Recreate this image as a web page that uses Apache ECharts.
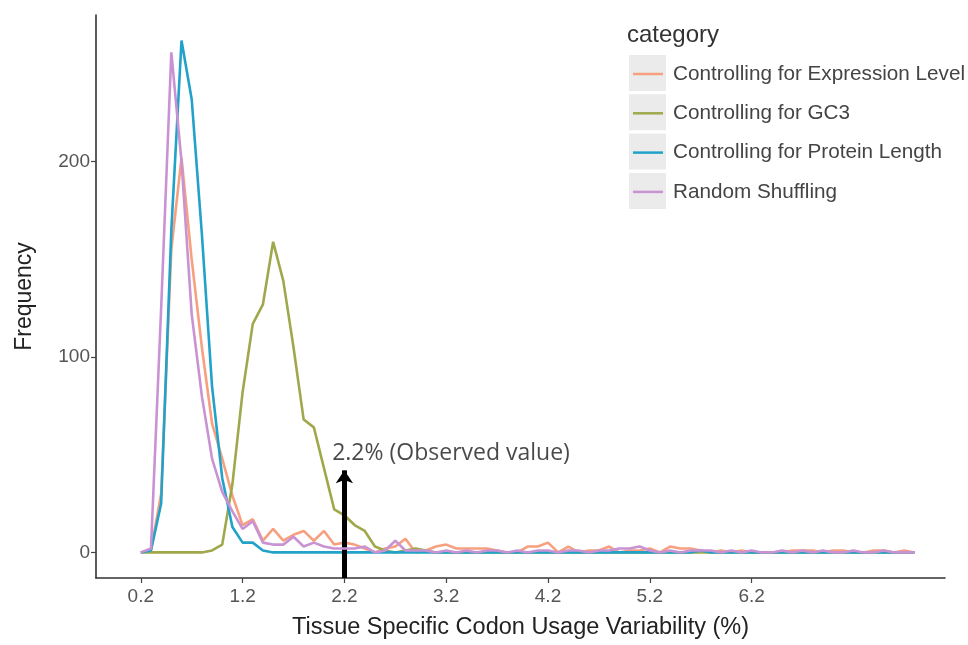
<!DOCTYPE html>
<html>
<head>
<meta charset="utf-8">
<script src="https://cdn.jsdelivr.net/npm/echarts@6/dist/echarts.min.js"></script>
<style>
  html, body { margin: 0; padding: 0; background: #fff; }
  #chart { width: 968px; height: 645px; }
</style>
</head>
<body>
<div id="chart"></div>
<script>
// bin positions (%)
const bins = [
  0.2, 0.3, 0.4, 0.5, 0.6, 0.7, 0.8, 0.9, 1.0, 1.1,
  1.2, 1.3, 1.4, 1.5, 1.6, 1.7, 1.8, 1.9, 2.0, 2.1,
  2.2, 2.3, 2.4, 2.5, 2.6, 2.7, 2.8, 2.9, 3.0, 3.1,
  3.2, 3.3, 3.4, 3.5, 3.6, 3.7, 3.8, 3.9, 4.0, 4.1,
  4.2, 4.3, 4.4, 4.5, 4.6, 4.7, 4.8, 4.9, 5.0, 5.1,
  5.2, 5.3, 5.4, 5.5, 5.6, 5.7, 5.8, 5.9, 6.0, 6.1,
  6.2, 6.3, 6.4, 6.5, 6.6, 6.7, 6.8, 6.9, 7.0, 7.1,
  7.2, 7.3, 7.4, 7.5, 7.6, 7.7, 7.8
];

const expressionLevel = [
  0, 1, 30, 155, 202, 150, 105, 66, 48, 29,
  14, 17, 6, 12, 6, 9, 11, 6, 11, 4,
  5, 4, 2, 0, 2, 3, 7, 0, 1, 3,
  4, 2, 2, 2, 2, 1, 0, 0, 3, 3,
  5, 0, 3, 0, 1, 1, 3, 0, 1, 1,
  2, 0, 3, 2, 2, 1, 0, 1, 0, 1,
  0, 0, 0, 0, 1, 1, 1, 0, 1, 1,
  0, 0, 1, 1, 0, 1, 0
];

const gc3 = [
  0, 0, 0, 0, 0, 0, 0, 1, 4, 35,
  82, 117, 127, 159, 139, 105, 68, 64, 43, 22,
  19, 14, 11, 3, 1, 0, 1, 2, 1, 0,
  0, 0, 0, 0, 0, 0, 0, 0, 0, 0,
  0, 0, 0, 0, 0, 0, 0, 0, 0, 0,
  0, 0, 0, 0, 0, 0, 0, 0, 0, 0,
  0, 0, 0, 0, 0, 0, 0, 0, 0, 0,
  0, 0, 0, 0, 0, 0, 0
];

const proteinLength = [
  0, 1, 25, 165, 262, 232, 163, 85, 38, 13,
  5, 5, 1, 0, 0, 0, 0, 0, 0, 0,
  0, 0, 0, 0, 0, 0, 0, 0, 0, 0,
  0, 0, 0, 0, 0, 0, 0, 0, 0, 0,
  0, 0, 0, 0, 0, 0, 0, 0, 0, 0,
  0, 0, 0, 0, 0, 1, 0, 0, 0, 0,
  0, 0, 0, 0, 0, 0, 0, 0, 0, 0,
  0, 0, 0, 0, 0, 0, 0
];

const randomShuffling = [
  0, 2, 125, 256, 200, 122, 80, 48, 31, 21,
  12, 16, 5, 4, 4, 8, 3, 5, 3, 2,
  2, 2, 3, 0, 1, 6, 1, 1, 1, 0,
  1, 0, 1, 0, 1, 1, 0, 1, 0, 1,
  1, 0, 1, 1, 0, 1, 1, 2, 2, 3,
  1, 0, 1, 0, 1, 1, 1, 0, 1, 0,
  1, 0, 0, 1, 0, 1, 0, 1, 0, 0,
  1, 0, 0, 1, 0, 0, 0
];

const xTicks = [0.2, 1.2, 2.2, 3.2, 4.2, 5.2, 6.2];
const yTicks = [0, 100, 200];

const observedValue = 2.2;
const observedLabel = '2.2% (Observed value)';

const seriesNames = [
  'Controlling for Expression Level',
  'Controlling for GC3',
  'Controlling for Protein Length',
  'Random Shuffling'
];
const seriesValues = [expressionLevel, gc3, proteinLength, randomShuffling];
const colors = ['#f6a07f', '#a0a84c', '#22a2c9', '#c993d3'];

const font = 'Liberation Sans, Arial, sans-serif';
const yMin = -13.1, yMax = 275.1;

const chart = echarts.init(document.getElementById('chart'));

const lineSeries = seriesNames.map((name, i) => ({
  name: name,
  type: 'line',
  data: bins.map((x, j) => [x, seriesValues[i][j]]),
  showSymbol: false,
  symbol: 'none',
  lineStyle: { color: colors[i], width: 2.6 },
  itemStyle: { color: colors[i] },
  z: 2 + i,
  animation: false
}));

// arrow + text for the observed value
lineSeries.push({
  name: 'observed',
  type: 'scatter',
  data: [[observedValue - 0.12, 50.5]],
  symbolSize: 0,
  label: {
    show: true,
    position: 'right',
    distance: 0,
    formatter: observedLabel,
    fontFamily: 'Open Sans, sans-serif',
    fontSize: 23,
    color: '#1a1a1a'
  },
  markLine: {
    silent: true,
    symbol: ['none', 'arrow'],
    symbolSize: 13,
    label: { show: false },
    lineStyle: { color: '#000', width: 5, type: 'solid' },
    data: [[{ coord: [observedValue, yMin] }, { coord: [observedValue, 42] }]]
  },
  z: 10,
  animation: false
});

const option = {
  backgroundColor: '#fff',
  animation: false,
  title: {
    text: 'category',
    left: 627,
    top: 23,
    padding: 0,
    textStyle: { fontFamily: font, fontSize: 24, fontWeight: 'normal', color: '#333' }
  },
  legend: {
    data: seriesNames,
    orient: 'vertical',
    left: 633,
    top: 62,
    padding: 0,
    itemGap: 15.3,
    itemWidth: 30,
    itemHeight: 2.5,
    icon: 'rect',
    textStyle: {
      fontFamily: font,
      fontSize: 20.7,
      color: '#444',
      lineHeight: 24,
      padding: [0, 0, 0, 5]
    }
  },
  graphic: [0, 1, 2, 3].map(i => ({
    type: 'rect',
    left: 629,
    top: 55 + 39.3 * i,
    z: 0,
    shape: { width: 37, height: 36 },
    style: { fill: '#ebebeb' }
  })),
  grid: {
    left: 96,
    right: 23,
    top: 15,
    bottom: 62,
    containLabel: false
  },
  xAxis: {
    type: 'value',
    min: -0.24,
    max: 8.1,
    name: 'Tissue Specific Codon Usage Variability (%)',
    nameLocation: 'middle',
    nameGap: 38,
    nameTextStyle: { fontFamily: font, fontSize: 23.5, color: '#222' },
    axisLine: { show: true, onZero: false, lineStyle: { color: '#333', width: 1.6 } },
    axisTick: { show: true, customValues: xTicks, length: 5, lineStyle: { color: '#444', width: 1.2 } },
    axisLabel: {
      customValues: xTicks,
      formatter: v => v.toFixed(1),
      fontFamily: font,
      fontSize: 19,
      color: '#555',
      margin: 9
    },
    splitLine: { show: false }
  },
  yAxis: {
    type: 'value',
    min: yMin,
    max: yMax,
    name: 'Frequency',
    nameLocation: 'middle',
    nameGap: 60,
    nameTextStyle: { fontFamily: font, fontSize: 23, color: '#222' },
    axisLine: { show: true, onZero: false, lineStyle: { color: '#333', width: 1.6 } },
    axisTick: { show: true, customValues: yTicks, length: 5, lineStyle: { color: '#444', width: 1.2 } },
    axisLabel: {
      customValues: yTicks,
      fontFamily: font,
      fontSize: 19,
      color: '#555',
      margin: 6
    },
    splitLine: { show: false }
  },
  series: lineSeries
};

chart.setOption(option);
</script>
</body>
</html>
